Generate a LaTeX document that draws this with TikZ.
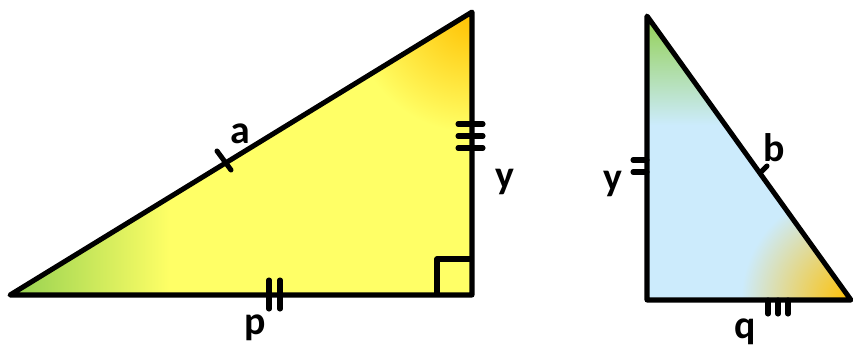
\documentclass[tikz,border=0pt]{standalone}
\usepackage{fontspec}
\setmainfont{Carlito}
\usepackage{tikz}
\usetikzlibrary{positioning}
\pgfdeclarelayer{background}
\pgfdeclarelayer{edgelayer}
\pgfdeclarelayer{nodelayer}
\pgfsetlayers{background,edgelayer,nodelayer,main}
\definecolor{lyellow}{RGB}{255,255,102}
\definecolor{lgreen}{RGB}{146,208,80}
\definecolor{lorange}{RGB}{255,192,0}
\definecolor{lblue}{RGB}{204,235,252}
\tikzstyle{none}=[inner sep=0mm]
\tikzstyle{lbl}=[inner sep=0mm,font=\fontsize{34}{34}\selectfont\bfseries]
\tikzstyle{side}=[line width=4.3pt,line join=round]
\tikzstyle{tick}=[line width=4.3pt,line cap=round]

\begin{document}
\begin{tikzpicture}[x=0.03cm,y=-0.03cm]
	\useasboundingbox (0,0) rectangle (853,351);
	\begin{pgfonlayer}{nodelayer}
		\node [style=none] (0) at (10, 295) {};
		\node [style=none] (1) at (472, 12) {};
		\node [style=none] (2) at (472, 295) {};
		\node [style=none] (3) at (647, 16) {};
		\node [style=none] (4) at (647, 300) {};
		\node [style=none] (5) at (851, 300) {};
		\node [style=lbl] (6) at (240, 134) {a};
		\node [style=lbl] (7) at (505, 182) {y};
		\node [style=lbl] (8) at (255, 328) {p};
		\node [style=lbl] (9) at (613, 184) {y};
		\node [style=lbl] (10) at (774, 148) {b};
		\node [style=lbl] (11) at (745, 332) {q};
	\end{pgfonlayer}
	\begin{pgfonlayer}{background}
		% left triangle
		\begin{scope}
			\clip (0.center) -- (1.center) -- (2.center) -- cycle;
			\fill[lyellow] (0,0) rectangle (480,300);
			\shade[left color=lgreen, right color=lyellow] (8,180) rectangle (170,300);
			\shade[inner color=lorange, outer color=lyellow] (472,12) circle (120);
		\end{scope}
		% right triangle
		\begin{scope}
			\clip (3.center) -- (4.center) -- (5.center) -- cycle;
			\fill[lblue] (640,0) rectangle (853,310);
			\shade[top color=lgreen, bottom color=lblue] (640,15) rectangle (853,125);
			\shade[inner color=lorange, outer color=lblue] (851,300) circle (110);
		\end{scope}
	\end{pgfonlayer}
	\begin{pgfonlayer}{edgelayer}
		\draw[side] (0.center) to (1.center) to (2.center) to cycle;
		\draw[side] (2.center) ++(-35,0) -- ++(0,-36) -- ++(35,0);
		\draw[side] (3.center) to (4.center) to (5.center) to cycle;
		% ticks
		\draw[tick] (217,151) -- (231,170);
		\draw[tick] (269,280) -- (269,309);
		\draw[tick] (280,280) -- (280,309);
		\draw[tick] (458,124) -- (483,124);
		\draw[tick] (458,136) -- (483,136);
		\draw[tick] (458,148) -- (483,148);
		\draw[tick] (633,160) -- (647,160);
		\draw[tick] (633,172) -- (647,172);
		\draw[tick] (761,172) -- (767,166);
		\draw[tick] (768,300) -- (768,314);
		\draw[tick] (778,300) -- (778,314);
		\draw[tick] (788,300) -- (788,314);
	\end{pgfonlayer}
\end{tikzpicture}
\end{document}
